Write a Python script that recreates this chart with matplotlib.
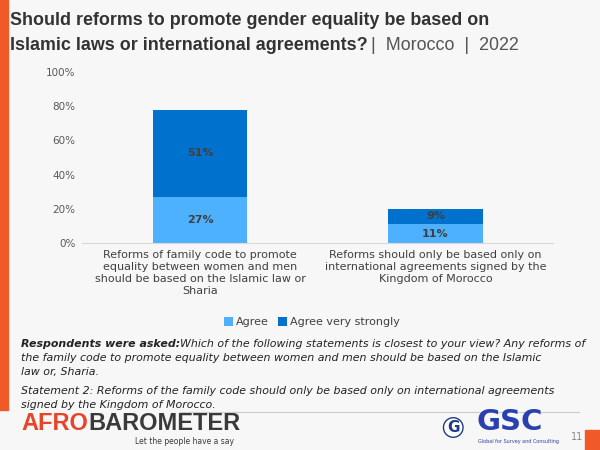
import matplotlib.pyplot as plt
import numpy as np

# Data
categories = [
    "Reforms of family code to promote\nequality between women and men\nshould be based on the Islamic law or\nSharia",
    "Reforms should only be based only on\ninternational agreements signed by the\nKingdom of Morocco",
]
agree = [27, 11]
agree_strongly = [51, 9]
series_names = ["Agree", "Agree very strongly"]
yticks = [0, 20, 40, 60, 80, 100]

BG = "#f7f7f7"
C_AGREE = "#4db1ff"
C_STRONG = "#0071cd"
TXT = "#404040"
TITLE_FONT = ["Liberation Sans", "DejaVu Sans"]

fig = plt.figure(figsize=(6, 4.5), dpi=100, facecolor=BG)
ax = fig.add_axes([0.137, 0.46, 0.785, 0.38], facecolor=BG)

x = np.arange(len(categories))
b1 = ax.bar(x, agree, width=0.4, color=C_AGREE, label=series_names[0])
b2 = ax.bar(x, agree_strongly, width=0.4, bottom=agree, color=C_STRONG, label=series_names[1])

for i in range(len(x)):
    ax.text(x[i], agree[i] / 2, f"{agree[i]}%", ha="center", va="center",
            fontsize=8, fontweight="bold", color=TXT)
    ax.text(x[i], agree[i] + agree_strongly[i] / 2, f"{agree_strongly[i]}%", ha="center",
            va="center", fontsize=8, fontweight="bold", color=TXT)

ax.set_xlim(-0.5, 1.5)
ax.set_ylim(0, 100)
ax.set_yticks(yticks)
ax.set_yticklabels([f"{t}%" for t in yticks], fontsize=7.5, color="#595959")
ax.set_xticks(x)
ax.set_xticklabels(categories, fontsize=8, color=TXT, linespacing=1.25)
ax.tick_params(length=0, pad=5)
for s in ["top", "right", "left"]:
    ax.spines[s].set_visible(False)
ax.spines["bottom"].set_color("#d9d9d9")

fig.legend(handles=[b1, b2], labels=series_names, loc="center", bbox_to_anchor=(0.52, 0.284),
           ncol=2, frameon=False, fontsize=8, handlelength=0.8, handleheight=0.8,
           columnspacing=0.8, handletextpad=0.3, labelcolor=TXT)

# left orange strip and corner square
fig.patches.append(plt.Rectangle((0, 0.09), 0.013, 0.91, transform=fig.transFigure,
                                 color="#f05a28", zorder=0))
fig.patches.append(plt.Rectangle((0.975, 0), 0.025, 0.045, transform=fig.transFigure,
                                 color="#f05a28", zorder=0))

# title
fig.text(0.017, 0.974, "Should reforms to promote gender equality be based on",
         fontsize=12.9, fontweight="bold", color="#333333", va="top", family=TITLE_FONT)
t2 = fig.text(0.017, 0.918, "Islamic laws or international agreements?",
              fontsize=12.9, fontweight="bold", color="#333333", va="top", family=TITLE_FONT)
fig.canvas.draw()
bb = t2.get_window_extent()
fig.text(bb.x1 / fig.bbox.width + 0.006, 0.918, "|  Morocco  |  2022",
         fontsize=12.9, color="#555555", va="top", family=TITLE_FONT)

# footnote
fs = 7.9
y0 = 0.247
tb = fig.text(0.035, y0, "Respondents were asked:", fontsize=fs, fontweight="bold",
              style="italic", color="#222222", va="top")
fig.canvas.draw()
bb = tb.get_window_extent()
fig.text(bb.x1 / fig.bbox.width, y0,
         "Which of the following statements is closest to your view? Any reforms of",
         fontsize=fs, style="italic", color="#222222", va="top")
fig.text(0.035, y0 - 0.031,
         "the family code to promote equality between women and men should be based on the Islamic",
         fontsize=fs, style="italic", color="#222222", va="top")
fig.text(0.035, y0 - 0.062, "law or, Sharia.",
         fontsize=fs, style="italic", color="#222222", va="top")
fig.text(0.035, y0 - 0.105,
         "Statement 2: Reforms of the family code should only be based only on international agreements",
         fontsize=fs, style="italic", color="#222222", va="top")
fig.text(0.035, y0 - 0.136, "signed by the Kingdom of Morocco.",
         fontsize=fs, style="italic", color="#222222", va="top")
fig.lines.append(plt.Line2D([0.3, 0.965], [0.085, 0.085], transform=fig.transFigure,
                            color="#cccccc", lw=0.8))

# logos as text
ta = fig.text(0.035, 0.06, "AFRO", fontsize=17, fontweight="bold", color="#e8442a",
              va="center", family=TITLE_FONT)
fig.canvas.draw()
bb = ta.get_window_extent()
fig.text(bb.x1 / fig.bbox.width, 0.06, "BAROMETER", fontsize=17, fontweight="bold",
         color="#3a3a3a", va="center", family=TITLE_FONT)
fig.text(0.225, 0.02, "Let the people have a say", fontsize=5.5, color="#3a3a3a", va="center")
fig.text(0.745, 0.05, "G", fontsize=11, fontweight="bold", color="#1f3c88", va="center",
         bbox=dict(boxstyle="circle,pad=0.15", fc="white", ec="#1f3c88", lw=1))
fig.text(0.795, 0.062, "GSC", fontsize=21, fontweight="bold", color="#2a3fb0", va="center")
fig.text(0.797, 0.02, "Global for Survey and Consulting", fontsize=3.5, color="#2a3fb0", va="center")
fig.text(0.952, 0.03, "11", fontsize=7, color="#888888", va="center")

fig.savefig("out.png", dpi=100, facecolor=BG)
